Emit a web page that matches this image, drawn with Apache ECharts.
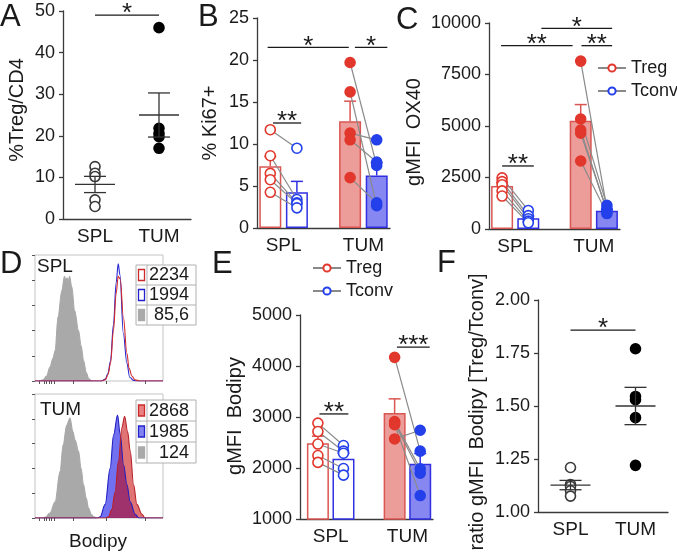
<!DOCTYPE html>
<html>
<head>
<meta charset="utf-8">
<script src="https://cdn.jsdelivr.net/npm/echarts@6.0.0/dist/echarts.min.js"></script>
<style>
html, body { margin: 0; padding: 0; background: #fff; }
#chart { width: 677px; height: 553px; }
</style>
</head>
<body>
<div id="chart"></div>
<script>
var FONT = '"Liberation Sans", Arial, Helvetica, sans-serif';
var INK = '#1a1a1a';
var AXIS_C = '#3a3a3a';
var RED = '#e2372c', RED_EDGE = '#da5652', RED_FILL = '#ec9d9a';
var BLUE = '#2340ea', BLUE_EDGE = '#3030e2', BLUE_FILL = '#8787f2';
var PAIR = '#8a8a8a';

// groups on every x axis
var groups = ['SPL', 'TUM'];
var cellTypes = ['Treg', 'Tconv'];

// A - %Treg/CD4
var aSpl = [12.6, 11.0, 10.2, 4.6, 3.0];
var aTum = [46.0, 21.8, 20.6, 19.8, 17.0];
var aMean = [8.3, 25.0];
var aSem = [1.95, 5.3];
var aAxis = [0, 50, 10];
var aSig = [[0, 0.97, 49.0, '*']];

// B - % Ki67+ (same index = same mouse)
var bTregSpl = [11.7, 8.6, 6.5, 5.75, 4.25];
var bTconvSpl = [9.5, 3.4, 3.0, 2.9, 2.4];
var bTregTum = [19.7, 16.2, 11.3, 10.5, 6.0];
var bTconvTum = [7.45, 2.65, 10.5, 7.85, 3.0];
var bTregMean = [7.35, 12.7], bTregSem = [1.15, 2.4];
var bTconvMean = [4.25, 6.25], bTconvSem = [1.3, 1.5];
var bAxis = [0, 25, 5];
var bSig = [[0.6, 1.66, 12.5, '**'], [0.4, 3.45, 21.5, '*'], [3.68, 4.9, 21.5, '*']];

// C - gMFI OX40
var cTregSpl = [2480, 2300, 2150, 1850, 1600];
var cTconvSpl = [900, 650, 500, 380, 300];
var cTregTum = [8150, 5340, 4800, 4650, 3300];
var cTconvTum = [1000, 1150, 850, 900, 750];
var cTregMean = [2090, 5250], cTregSem = [160, 790];
var cTconvMean = [520, 890], cTconvSem = [110, 70];
var cAxis = [0, 10000, 2500];
var cSig = [[0.5, 1.71, 3060, '**'], [0.46, 3.19, 8900, '**'], [3.53, 4.7, 8900, '**'], [2.0, 4.7, 9740, '*']];

// D - Bodipy histograms, [channel %, count % of max]
var splGrey = [[4, 0], [6.5, 1], [9, 4], [11.7, 11], [14, 18], [15.7, 24], [18, 51], [21, 72], [23, 83], [24, 80], [25, 82], [26, 79], [27, 83], [28.7, 75], [31, 56], [34, 40], [36, 28], [38, 16], [40, 7], [42, 2], [44, 0]];
var splRed = [[0, 0], [52, 0], [55, 1], [57, 5], [59, 14], [61.3, 40], [63.4, 69.5], [65, 83], [66.6, 81], [69, 51], [71.8, 22], [73.5, 10], [75.7, 4], [78, 1], [82, 0], [100, 0]];
var splBlue = [[0, 0], [52, 0], [55, 1.5], [57, 6], [59, 16], [61.3, 45], [63.4, 78], [65, 93], [66.4, 84], [69, 38], [71.8, 14], [74, 3], [77, 0.5], [80, 0], [100, 0]];
var tumGrey = [[6, 0], [7.8, 0.5], [11.7, 4], [15.7, 13], [19.6, 37.6], [22, 59], [24.8, 75], [27.4, 80.6], [29.5, 70], [31.3, 63], [34, 54], [36, 40], [37.9, 27], [40, 16], [41.8, 8], [44, 3], [45.7, 1], [48, 0]];
var tumBlue = [[0, 0], [49, 0], [50.9, 1], [54.8, 11], [58.7, 40], [61.4, 67], [64.5, 83], [66.6, 67], [69.2, 43], [71.8, 27], [74.4, 13], [78.3, 3], [81, 0], [100, 0]];
var tumRed = [[0, 0], [55, 0], [57.4, 1], [60, 7], [62.6, 21], [65.2, 46], [67.9, 73], [70, 82], [72.3, 70], [74.4, 54], [77, 27], [79.6, 11], [83.6, 3], [86, 0], [100, 0]];
var splMfi = ['2234', '1994', '85,6'];
var tumMfi = ['2868', '1985', '124'];

// E - gMFI Bodipy
var eTregSpl = [2880, 2715, 2470, 2245, 2110];
var eTconvSpl = [2440, 2330, 2290, 1990, 1860];
var eTregTum = [4170, 2910, 2880, 2850, 2570];
var eTconvTum = [2330, 1985, 1900, 1460, 2740];
var eTregMean = [2484, 3076], eTregSem = [140, 280];
var eTconvMean = [2182, 2083], eTconvSem = [110, 200];
var eAxis = [1000, 5000, 1000];
var eSig = [[0.56, 1.69, 3060, '**'], [3.59, 4.87, 4370, '***']];

// F - ratio gMFI Bodipy [Treg/Tconv]
var fSpl = [1.21, 1.13, 1.12, 1.10, 1.075];
var fTum = [1.77, 1.545, 1.53, 1.445, 1.22];
var fMean = [1.127, 1.50];
var fSem = [0.022, 0.088];
var fAxis = [1, 2, 0.25];
var fSig = [[0, 1, 1.858, '*']];

function groupCenter(i) { return 1 + 3 * i; }
function barX(i, s) { return 0.5 + 3 * i + s; }

var chart = echarts.init(document.getElementById('chart'));

var axisLine = {show: true, onZero: false, lineStyle: {color: AXIS_C, width: 1.3}};
var labelBase = {color: INK, fontFamily: FONT};

function yVal(gi, ax, digits) {
    return {
        type: 'value', gridIndex: gi, min: ax[0], max: ax[1], interval: ax[2],
        axisLine: axisLine,
        axisTick: {show: true, length: 4, lineStyle: {color: AXIS_C, width: 1.3}},
        splitLine: {show: false},
        axisLabel: Object.assign({fontSize: 18, margin: 8, formatter: function (v) {
            return digits ? v.toFixed(digits) : String(v);
        }}, labelBase)
    };
}
function xCat(gi) {
    return {
        type: 'category', gridIndex: gi, data: groups,
        axisLine: axisLine, axisTick: {show: false},
        axisLabel: Object.assign({fontSize: 19, margin: 8}, labelBase)
    };
}
function xGroups(gi, min, max) {
    return {
        type: 'value', gridIndex: gi, min: min, max: max,
        axisLine: axisLine, axisTick: {show: false}, splitLine: {show: false},
        axisLabel: Object.assign({
            fontSize: 19, margin: 8,
            customValues: groups.map(function (g, i) { return groupCenter(i); }),
            formatter: function (v) { return groups[Math.round((v - 1) / 3)]; }
        }, labelBase)
    };
}
function xHist(gi) {
    return {
        type: 'value', gridIndex: gi, min: 0, max: 100,
        axisLine: {show: false}, splitLine: {show: false}, axisLabel: {show: false},
        axisTick: {show: true, length: 3, inside: false, customValues: [3, 7, 9, 11, 13, 15, 30, 56, 86], lineStyle: {color: '#555'}}
    };
}
function yHist(gi) {
    return {
        type: 'value', gridIndex: gi, min: 0, max: 100, interval: 20,
        axisLine: {show: false}, splitLine: {show: false}, axisLabel: {show: false},
        axisTick: {show: true, length: 3, lineStyle: {color: '#555'}}
    };
}

var series = [];

function dot(x, v, color, filled) {
    return {value: [x, v], itemStyle: {color: filled ? color : '#fff', borderColor: color, borderWidth: 1.6, opacity: 1}};
}

function sigSeries(gi, list) {
    return {
        type: 'custom', xAxisIndex: gi, yAxisIndex: gi, z: 8, silent: true, clip: false,
        encode: {x: [0, 1], y: 2},
        data: list.map(function (s) { return [s[0], s[1], s[2]]; }),
        renderItem: function (params, api) {
            var s = list[params.dataIndex];
            var a = api.coord([s[0], s[2]]), b = api.coord([s[1], s[2]]);
            return {type: 'group', children: [
                {type: 'line', shape: {x1: a[0], y1: a[1], x2: b[0], y2: b[1]}, style: {stroke: INK, lineWidth: 1.3}},
                {type: 'text', style: {text: s[3], x: (a[0] + b[0]) / 2, y: a[1] - 1,
                    align: 'center', verticalAlign: 'middle', textAlign: 'center', textVerticalAlign: 'middle',
                    font: '26px ' + FONT, fill: INK}}
            ]};
        }
    };
}

function meanSemSeries(gi, means, sems) {
    return {
        type: 'custom', xAxisIndex: gi, yAxisIndex: gi, z: 6, silent: true,
        encode: {x: 0, y: 1},
        data: means.map(function (m, i) { return [i, m, sems[i]]; }),
        renderItem: function (params, api) {
            var i = api.value(0), m = api.value(1), s = api.value(2);
            var c = api.coord([i, m]), t = api.coord([i, m + s]), b = api.coord([i, m - s]);
            var st = {stroke: '#333', lineWidth: 1.3};
            return {type: 'group', children: [
                {type: 'line', shape: {x1: c[0] - 20, y1: c[1], x2: c[0] + 20, y2: c[1]}, style: st},
                {type: 'line', shape: {x1: c[0], y1: t[1], x2: c[0], y2: b[1]}, style: st},
                {type: 'line', shape: {x1: c[0] - 11, y1: t[1], x2: c[0] + 11, y2: t[1]}, style: st},
                {type: 'line', shape: {x1: c[0] - 11, y1: b[1], x2: c[0] + 11, y2: b[1]}, style: st}
            ]};
        }
    };
}

function dotPanel(gi, spl, tum, means, sems, sig) {
    series.push({
        type: 'scatter', xAxisIndex: gi, yAxisIndex: gi, symbolSize: 10, z: 5, silent: true,
        data: spl.map(function (v) { return dot(0, v, '#3a3a3a', false); })
            .concat(tum.map(function (v) { return dot(1, v, '#000', true); }))
    });
    series.push(meanSemSeries(gi, means, sems));
    series.push(sigSeries(gi, sig));
}

function pairedPanel(gi, treg, tconv, tMean, tSem, cMean, cSem, sig) {
    var bars = [], errs = [], dots = [];
    groups.forEach(function (g, i) {
        bars.push({value: [barX(i, 0), tMean[i]], itemStyle: {color: i ? RED_FILL : '#fff', borderColor: RED_EDGE, borderWidth: 1.5}});
        bars.push({value: [barX(i, 1), cMean[i]], itemStyle: {color: i ? BLUE_FILL : '#fff', borderColor: BLUE_EDGE, borderWidth: 1.5}});
        errs.push([barX(i, 0), tMean[i], tSem[i], 0]);
        errs.push([barX(i, 1), cMean[i], cSem[i], 1]);
        treg[i].forEach(function (v, k) {
            series.push({
                type: 'line', xAxisIndex: gi, yAxisIndex: gi, symbol: 'none', silent: true, z: 4,
                lineStyle: {color: PAIR, width: 1.2},
                data: [[barX(i, 0), v], [barX(i, 1), tconv[i][k]]]
            });
            dots.push(dot(barX(i, 0), v, RED, i === 1));
            dots.push(dot(barX(i, 1), tconv[i][k], BLUE, i === 1));
        });
    });
    series.push({type: 'bar', xAxisIndex: gi, yAxisIndex: gi, barWidth: 22, z: 2, silent: true, data: bars});
    series.push({
        type: 'custom', xAxisIndex: gi, yAxisIndex: gi, z: 3, silent: true,
        encode: {x: 0, y: 1}, data: errs,
        renderItem: function (params, api) {
            var x = api.value(0), m = api.value(1), s = api.value(2);
            var col = api.value(3) === 0 ? RED_EDGE : BLUE_EDGE;
            var p0 = api.coord([x, m]), p1 = api.coord([x, m + s]);
            var st = {stroke: col, lineWidth: 1.5};
            return {type: 'group', children: [
                {type: 'line', shape: {x1: p0[0], y1: p0[1], x2: p1[0], y2: p1[1]}, style: st},
                {type: 'line', shape: {x1: p1[0] - 6, y1: p1[1], x2: p1[0] + 6, y2: p1[1]}, style: st}
            ]};
        }
    });
    series.push({type: 'scatter', xAxisIndex: gi, yAxisIndex: gi, symbolSize: 10, z: 5, silent: true, data: dots});
    series.push(sigSeries(gi, sig));
}

function hist(gi, data, line, fill) {
    var s = {
        type: 'line', xAxisIndex: gi, yAxisIndex: gi, data: data, symbol: 'none', silent: true,
        smooth: 0.35, smoothMonotone: 'x', z: 2,
        lineStyle: {color: line, width: line ? 1.1 : 0}
    };
    if (fill) s.areaStyle = {color: fill, opacity: 1};
    series.push(s);
}

dotPanel(0, aSpl, aTum, aMean, aSem, aSig);
pairedPanel(1, [bTregSpl, bTregTum], [bTconvSpl, bTconvTum], bTregMean, bTregSem, bTconvMean, bTconvSem, bSig);
pairedPanel(2, [cTregSpl, cTregTum], [cTconvSpl, cTconvTum], cTregMean, cTregSem, cTconvMean, cTconvSem, cSig);
hist(3, splGrey, '#a9a9a9', '#a9a9a9');
hist(3, splBlue, '#2626d0', null);
hist(3, splRed, '#d22a2a', null);
hist(4, tumGrey, '#a9a9a9', '#a9a9a9');
hist(4, tumBlue, '#2020c0', 'rgba(17,17,230,0.6)');
hist(4, tumRed, '#b8202a', 'rgba(199,0,0,0.55)');
pairedPanel(5, [eTregSpl, eTregTum], [eTconvSpl, eTconvTum], eTregMean, eTregSem, eTconvMean, eTconvSem, eSig);
dotPanel(6, fSpl, fTum, fMean, fSem, fSig);

// legend entries (Treg / Tconv)
[RED, BLUE].forEach(function (col, i) {
    series.push({
        type: 'line', name: cellTypes[i], xAxisIndex: 2, yAxisIndex: 2, data: [],
        symbol: 'circle', symbolSize: 7,
        itemStyle: {color: '#fff', borderColor: col, borderWidth: 0.8},
        lineStyle: {color: '#8a8a8a', width: 1.1}
    });
});

function legendAt(left, top) {
    return {
        data: cellTypes, orient: 'vertical', left: left, top: top, selectedMode: false,
        padding: 0, itemWidth: 28, itemHeight: 9, itemGap: 5,
        textStyle: {fontSize: 18, color: INK, fontFamily: FONT}
    };
}

// graphics: panel letters, axis titles, histogram tables
var elements = [];
function txt(t, x, y, size, opts) {
    opts = opts || {};
    elements.push({
        type: 'text', x: x, y: y, rotation: opts.rot || 0, z: 50, silent: true,
        style: {text: t, font: size + 'px ' + FONT, fill: INK,
            align: opts.align || 'left', verticalAlign: 'middle',
            textAlign: opts.align || 'left', textVerticalAlign: 'middle'}
    });
}
[['A', 0, 17], ['B', 198, 17], ['C', 396, 20], ['D', 0, 264], ['E', 212, 264], ['F', 437, 263]]
    .forEach(function (l) { txt(l[0], l[1], l[2], 31); });
[['%Treg/CD4', 17, 110], ['% Ki67+', 210, 123], ['gMFI  OX40', 414, 132],
 ['gMFI  Bodipy', 235, 416], ['ratio gMFI  Bodipy [Treg/Tconv]', 477, 412]]
    .forEach(function (l) { txt(l[0], l[1], l[2], 20, {rot: Math.PI / 2, align: 'center'}); });
txt('Bodipy', 98, 542, 19, {align: 'center'});
txt('SPL', 37, 267, 19);
txt('TUM', 40, 410, 19);

function mfiTable(top, rowH, values, filled) {
    var x = 136, w = 60, h = rowH * 3;
    elements.push({type: 'rect', z: 50, silent: true, shape: {x: x, y: top, width: w, height: h},
        style: {fill: '#fff', stroke: '#b0b0b0', lineWidth: 1}});
    elements.push({type: 'line', z: 51, silent: true, shape: {x1: x + 11, y1: top, x2: x + 11, y2: top + h},
        style: {stroke: '#b0b0b0', lineWidth: 1}});
    var sw = [
        {fill: filled ? 'rgba(225,90,90,0.75)' : '#fff', stroke: '#cc2a2a'},
        {fill: filled ? 'rgba(90,90,235,0.75)' : '#fff', stroke: '#2222cc'},
        {fill: '#aaaaaa', stroke: '#aaaaaa'}
    ];
    values.forEach(function (v, r) {
        var y0 = top + r * rowH;
        if (r > 0) {
            elements.push({type: 'line', z: 51, silent: true, shape: {x1: x, y1: y0, x2: x + w, y2: y0},
                style: {stroke: '#b0b0b0', lineWidth: 1}});
        }
        elements.push({type: 'rect', z: 52, silent: true,
            shape: {x: x + 2.5, y: y0 + rowH / 2 - 5.5, width: 6, height: 11}, style: Object.assign({lineWidth: 1.3}, sw[r])});
        txt(v, x + 53, y0 + rowH / 2 + 0.5, 18, {align: 'right'});
    });
}
mfiTable(265, 20, splMfi, false);
mfiTable(400, 21, tumMfi, true);

var histGrid = {show: true, borderColor: '#c4c4c4', borderWidth: 1, backgroundColor: 'transparent'};

chart.setOption({
    animation: false,
    textStyle: {fontFamily: FONT},
    grid: [
        {left: 63, top: 11, width: 128, height: 208},
        {left: 257, top: 18, width: 133, height: 210},
        {left: 489, top: 23, width: 131, height: 206},
        Object.assign({left: 35, top: 255, width: 128, height: 126}, histGrid),
        Object.assign({left: 35, top: 394, width: 128, height: 124}, histGrid),
        {left: 300, top: 315, width: 133, height: 204},
        {left: 538, top: 300, width: 130, height: 212}
    ],
    xAxis: [xCat(0), xGroups(1, 0, 5), xGroups(2, 0, 5), xHist(3), xHist(4), xGroups(5, -0.2, 5), xCat(6)],
    yAxis: [yVal(0, aAxis, 0), yVal(1, bAxis, 0), yVal(2, cAxis, 0), yHist(3), yHist(4), yVal(5, eAxis, 0), yVal(6, fAxis, 2)],
    legend: [legendAt(597, 59), legendAt(312, 259)],
    graphic: {elements: elements},
    series: series
});
</script>
</body>
</html>
